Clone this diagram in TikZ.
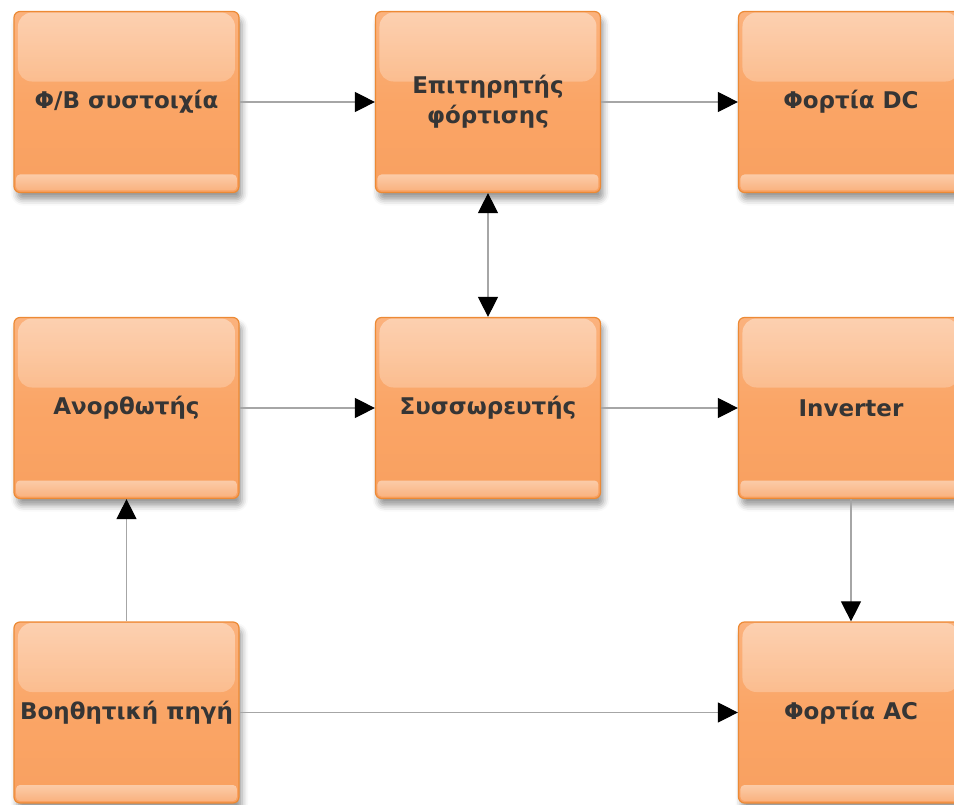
\documentclass[tikz,border=0pt]{standalone}
\usepackage{fontspec}
\setmainfont{DejaVu Sans}
\usetikzlibrary{arrows.meta,fadings,shadows.blur}

\definecolor{boxfill}{HTML}{FAA566}
\definecolor{boxtop}{HTML}{FBB27D}
\definecolor{boxbottom}{HTML}{F9A060}
\definecolor{boxedge}{HTML}{EC8A35}
\definecolor{labeltext}{HTML}{353535}
\definecolor{linkgray}{HTML}{A6A6A6}

\tikzfading[name=glossfade, top color=transparent!60, bottom color=transparent!100]
\tikzfading[name=bandfade, top color=transparent!55, bottom color=transparent!80]

\tikzset{
  blockbox/.style={
    rectangle, rounded corners=6pt,
    minimum width=225pt, minimum height=181pt,
    draw=boxedge, line width=1.2pt,
    top color=boxtop, bottom color=boxbottom, middle color=boxfill,
    text=labeltext, align=center,
    font=\fontsize{23pt}{30pt}\selectfont\bfseries,
    blur shadow={shadow xshift=3pt, shadow yshift=-7pt,
                 shadow blur radius=6pt, shadow opacity=40},
    path picture={
      % soft glossy highlight on the upper part
      \fill[white, path fading=glossfade, rounded corners=14pt]
        ([xshift=4pt,yshift=-1pt]path picture bounding box.north west)
        rectangle ([xshift=-4pt,yshift=-70pt]path picture bounding box.north east);
      % light band along the bottom edge
      \fill[white, path fading=bandfade, rounded corners=4pt]
        ([xshift=2pt,yshift=2pt]path picture bounding box.south west)
        rectangle ([xshift=-2pt,yshift=18pt]path picture bounding box.south east);
    }
  },
  flow/.style={draw=linkgray, line width=1.1pt,
    -{Triangle[length=20pt,width=20pt,color=black]}},
  flowboth/.style={draw=linkgray, line width=1.1pt,
    {Triangle[length=20pt,width=20pt,color=black]}-{Triangle[length=20pt,width=20pt,color=black]}}
}

\begin{document}
\begin{tikzpicture}[x=1pt,y=-1pt]
  \useasboundingbox (0,0) rectangle (954,805);

  % top row
  \node[blockbox] (pv)   at (126.5,102) {Φ/Β συστοιχία};
  \node[blockbox] (ctrl) at (488,102)   {Επιτηρητής\\φόρτισης};
  \node[blockbox] (dc)   at (851,102)   {Φορτία DC};

  % middle row
  \node[blockbox] (rect) at (126.5,408) {Ανορθωτής};
  \node[blockbox] (batt) at (488,408)   {Συσσωρευτής};
  \node[blockbox] (inv)  at (851,408)   {Inverter};

  % bottom row
  \node[blockbox] (aux)  at (126.5,712.5) {Βοηθητική πηγή};
  \node[blockbox] (ac)   at (851,712.5)   {Φορτία AC};

  % connections
  \draw[flow] (pv) -- (ctrl);
  \draw[flow] (ctrl) -- (dc);
  \draw[flowboth] (ctrl) -- (batt);
  \draw[flow] (rect) -- (batt);
  \draw[flow] (batt) -- (inv);
  \draw[flow] (inv) -- (ac);
  \draw[flow] (aux) -- (rect);
  \draw[flow] (aux) -- (ac);
\end{tikzpicture}
\end{document}
